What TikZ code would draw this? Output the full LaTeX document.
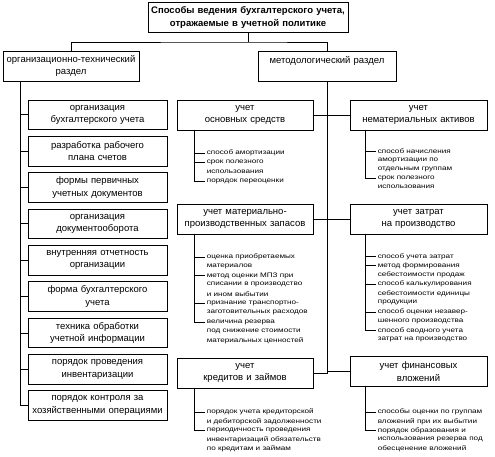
\documentclass[tikz,border=0pt]{standalone}
\usepackage{fontspec}
\setmainfont{Liberation Sans}
\newfontfamily\lfont[FakeStretch=1.25]{Liberation Sans}
\begin{document}
\begin{tikzpicture}[x=1pt,y=-1pt,line width=0.7pt,
  box/.style={draw,line width=0.7pt,align=center,inner sep=0pt,minimum height=29.5pt,
    font=\fontsize{9.5}{12.5}\selectfont},
  li/.style={anchor=west,inner xsep=1.5pt,inner ysep=0pt,font=\lfont\fontsize{6.5}{8}\selectfont}]
\useasboundingbox (0,0) rectangle (495,456);
% top level
\node[box,text width=200pt,font=\bfseries\fontsize{9.5}{12.3}\selectfont] (top) at (248,17.5)
  {Способы ведения бухгалтерского учета,\\ отражаемые в учетной политике};
\node[box,text width=136pt,minimum height=30pt] (ml) at (71,66) {организационно-технический\\ раздел};
\node[box,text width=138pt,minimum height=30pt] (mr) at (327,66) {методологический раздел\\ \mbox{}};
\coordinate (jt) at (248,42);
\draw (top.south) -- (jt);
\draw (ml.north) |- (jt) -| (mr.north);
% left column
\node[box,text width=139pt] (b1) at (97.5,114.75) {организация\\ бухгалтерского учета};
\node[box,text width=139pt] (b2) at (97.5,151.1) {разработка рабочего\\ плана счетов};
\node[box,text width=139pt] (b3) at (97.5,187.45) {формы первичных\\ учетных документов};
\node[box,text width=139pt] (b4) at (97.5,223.8) {организация\\ документооборота};
\node[box,text width=139pt] (b5) at (97.5,260.15) {внутренняя отчетность\\ организации};
\node[box,text width=139pt] (b6) at (97.5,296.5) {форма бухгалтерского\\ учета};
\node[box,text width=139pt] (b7) at (97.5,332.85) {техника обработки\\ учетной информации};
\node[box,text width=139pt] (b8) at (97.5,369.2) {порядок проведения\\ инвентаризации};
\node[box,text width=139pt] (b9) at (97.5,405.55) {порядок контроля за\\ хозяйственными операциями};
\coordinate (lsp) at (20,0);
\draw (ml.south -| lsp) -- (b9.west -| lsp);
\foreach \k in {1,...,9} \draw (b\k.west -| lsp) -- (b\k.west);
% methodological boxes
\node[box,text width=136pt,minimum height=30pt] (os) at (245,115) {учет\\ основных средств};
\node[box,text width=137pt,minimum height=30pt] (nma) at (418.5,115) {учет\\ нематериальных активов};
\node[box,text width=136pt,minimum height=30pt] (mpz) at (245,219) {учет материально-\\ производственных запасов};
\node[box,text width=137pt,minimum height=30pt] (zat) at (418.5,219) {учет затрат\\ на производство};
\node[box,text width=136pt,minimum height=30pt] (kr) at (245,373) {учет\\ кредитов и займов};
\node[box,text width=137pt,minimum height=30pt] (fin) at (418.5,371.5) {учет финансовых\\ вложений};
\draw (mr.south) -- (mr.south |- kr.east) -- (kr.east);
\draw (os.east) -- (os.east -| mr.south);
\draw (nma.west) -- (nma.west -| mr.south);
\draw (mpz.east) -- (mpz.east -| mr.south);
\draw (zat.west) -- (zat.west -| mr.south);
\draw (fin.west) -- (fin.west -| mr.south);
% list spines
\coordinate (cv) at (194,0);
\coordinate (rv) at (365,0);
% fixed assets
\foreach \t [count=\i] in {способ амортизации,срок полезного,использования,порядок переоценки}
  \node[li] (o\i) at (205,{153+9.5*(\i-1)}) {\t};
\draw (os.south -| cv) -- (o4.west -| cv);
\foreach \k in {1,2,4} \draw (o\k.west -| cv) -- (o\k.west);
% intangible assets
\foreach \t [count=\i] in {способ начисления,амортизации по,отдельным группам,срок полезного,использования}
  \node[li] (n\i) at (376,{151+9*(\i-1)}) {\t};
\draw (nma.south -| rv) -- (n4.west -| rv);
\foreach \k in {1,4} \draw (n\k.west -| rv) -- (n\k.west);
% inventories
\foreach \t [count=\i] in {оценка приобретаемых,материалов,метод оценки МПЗ при,списании в производство,и ином выбытии,признание транспортно-,заготовительных расходов,величина резерва,под снижение стоимости,материальных ценностей}
  \node[li] (m\i) at (205,{257+9.3*(\i-1)}) {\t};
\draw (mpz.south -| cv) -- (m8.west -| cv);
\foreach \k in {1,3,6,8} \draw (m\k.west -| cv) -- (m\k.west);
% production costs
\foreach \t [count=\i] in {способ учета затрат,метод формирования,себестоимости продаж,способ калькулирования,себестоимости единицы,продукции,способ оценки незавер-,шенного производства,способ сводного учета,затрат на производство}
  \node[li] (z\i) at (376,{256.5+9.25*(\i-1)}) {\t};
\draw (zat.south -| rv) -- (z9.west -| rv);
\foreach \k in {1,2,4,7,9} \draw (z\k.west -| rv) -- (z\k.west);
% credits and loans
\foreach \t [count=\i] in {порядок учета кредиторской,и дебиторской задолженности,периодичность проведения,инвентаризаций обязательств,по кредитам и займам}
  \node[li] (k\i) at (205,{412+9.3*(\i-1)}) {\t};
\draw (kr.south -| cv) -- (k3.west -| cv);
\foreach \k in {1,3} \draw (k\k.west -| cv) -- (k\k.west);
% financial investments
\foreach \t [count=\i] in {способы оценки по группам,вложений при их выбытии,порядок образования и,использования резерва под,обесценение вложений}
  \node[li] (f\i) at (376,{412+9.3*(\i-1)}) {\t};
\draw (fin.south -| rv) -- (f3.west -| rv);
\foreach \k in {1,3} \draw (f\k.west -| rv) -- (f\k.west);
\end{tikzpicture}
\end{document}
